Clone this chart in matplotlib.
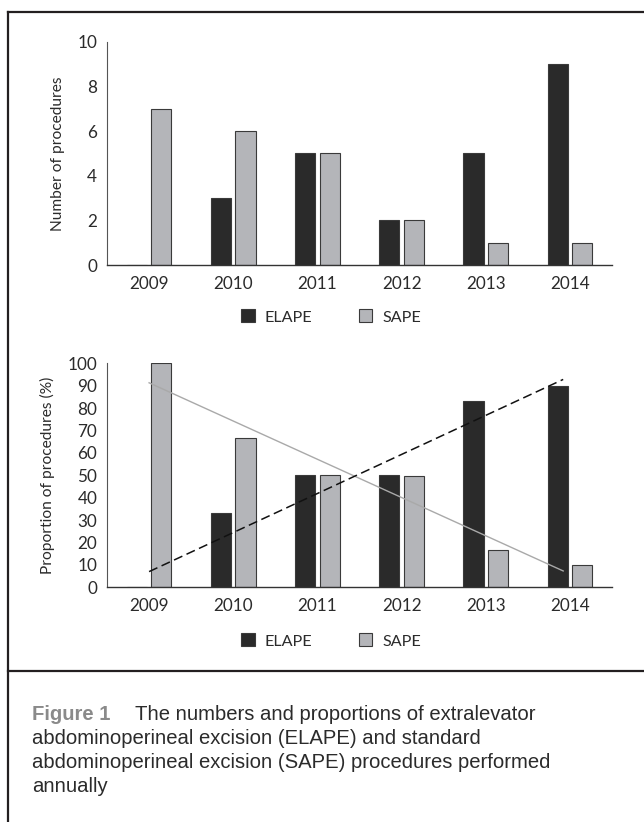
import numpy as np
import matplotlib.pyplot as plt
from matplotlib.patches import Patch
from matplotlib.lines import Line2D

years = ['2009', '2010', '2011', '2012', '2013', '2014']
elape_n = [0, 3, 5, 2, 5, 9]
sape_n = [7, 6, 5, 2, 1, 1]
elape_pct = [0, 33.3, 50, 50, 83.3, 90]
sape_pct = [100, 66.7, 50, 49.5, 16.7, 10]
# linear trend lines (start, end)
elape_trend = [7.0, 92.8]
sape_trend = [91.3, 7.3]
trend_x = [0, 4.92]

plt.rcParams['font.family'] = ['Lato', 'DejaVu Sans']

DARK = '#2a2a2a'
LIGHT = '#b4b5b9'
EDGE = '#3a3a3a'
TXT = '#2b2b2b'

W, H = 644, 822
fig = plt.figure(figsize=(W / 100, H / 100), dpi=100)


def px_axes(left, right, top, bottom):
    return fig.add_axes([left / W, 1 - bottom / H, (right - left) / W, (bottom - top) / H])


def style(ax, ymax, step, ylabel):
    x = np.arange(len(years))
    ax.set_xlim(-0.5, len(years) - 0.5)
    ax.set_ylim(0, ymax)
    ax.set_yticks(np.arange(0, ymax + 1, step))
    ax.set_xticks(x)
    ax.set_xticklabels(years)
    for s in ['top', 'right']:
        ax.spines[s].set_visible(False)
    ax.spines['left'].set_color('#555555')
    ax.spines['left'].set_linewidth(0.8)
    ax.spines['bottom'].set_color('#333333')
    ax.spines['bottom'].set_linewidth(1.0)
    ax.tick_params(length=0, labelsize=12.3, colors=TXT)
    ax.tick_params(axis='y', pad=7)
    ax.tick_params(axis='x', pad=8)
    ax.set_ylabel(ylabel, fontsize=11.2, color=TXT, labelpad=9)


def bars(ax, a, b):
    x = np.arange(len(years))
    w = 0.24
    ax.bar(x - 0.145, a, w, color=DARK, edgecolor=EDGE, linewidth=0.8, zorder=2)
    ax.bar(x + 0.145, b, w, color=LIGHT, edgecolor=EDGE, linewidth=0.8, zorder=2)


def legend(y):
    handles = [Patch(facecolor=DARK, edgecolor=EDGE, linewidth=0.8, label='ELAPE'),
               Patch(facecolor=LIGHT, edgecolor=EDGE, linewidth=0.8, label='SAPE')]
    fig.legend(handles=handles, loc='center', bbox_to_anchor=(331 / W, 1 - y / H),
               ncol=2, frameon=False, fontsize=11.6, handlelength=0.85, handleheight=0.85,
               handletextpad=0.6, columnspacing=2.9, labelcolor=TXT)


ax1 = px_axes(107, 612, 41.7, 265)
bars(ax1, elape_n, sape_n)
style(ax1, 10, 2, 'Number of procedures')
legend(317)

ax2 = px_axes(107, 612, 363.3, 587.3)
bars(ax2, elape_pct, sape_pct)
ax2.plot(trend_x, sape_trend, color='#a9a9a9', linewidth=1.0, zorder=3)
ax2.plot(trend_x, elape_trend, color='#111111', linewidth=1.1, linestyle=(0, (6, 3)), zorder=3)
style(ax2, 100, 10, 'Proportion of procedures (%)')
legend(641)

# frame around the figure and the caption separator
for xs, ys in [([8, 8], [12, H]), ([8, W], [12, 12]), ([8, W], [671, 671])]:
    fig.add_artist(Line2D([x / W for x in xs], [1 - y / H for y in ys],
                          color='#231f20', linewidth=1.6))

cap = dict(fontsize=14.6, color=TXT, family=['Liberation Sans', 'DejaVu Sans'], va='baseline')
fig.text(32 / W, 1 - 720 / H, 'Figure 1', **{**cap, 'color': '#8a8a8a', 'fontweight': 'bold'})
fig.text(135 / W, 1 - 720 / H, 'The numbers and proportions of extralevator', **cap)
fig.text(32 / W, 1 - 744 / H, 'abdominoperineal excision (ELAPE) and standard', **cap)
fig.text(32 / W, 1 - 768 / H, 'abdominoperineal excision (SAPE) procedures performed', **cap)
fig.text(32 / W, 1 - 792 / H, 'annually', **cap)

fig.savefig('out.png', dpi=100)
